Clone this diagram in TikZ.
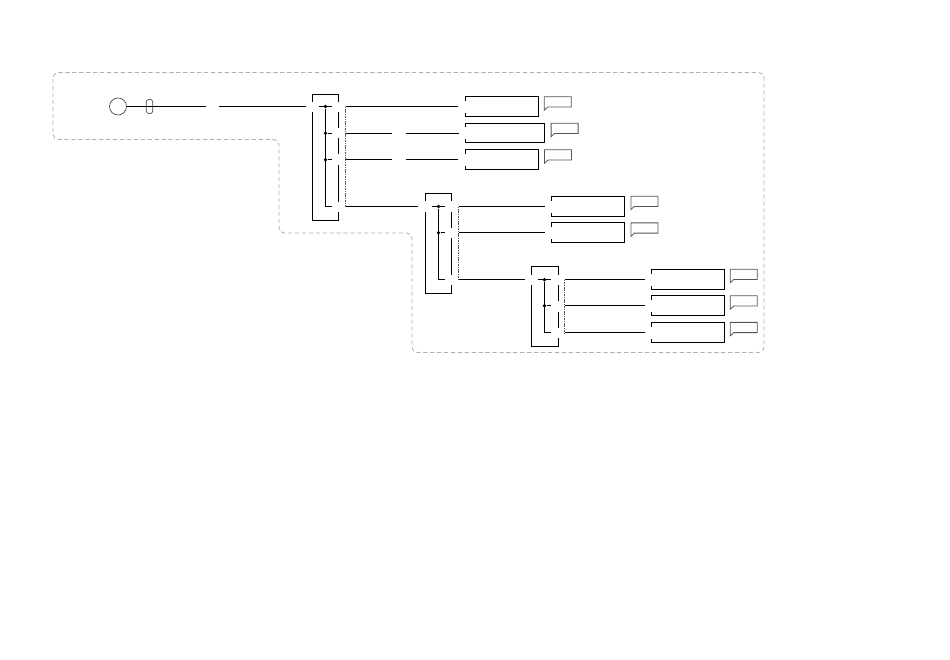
\documentclass[tikz,border=0pt]{standalone}
\usepackage{xcolor}
\usetikzlibrary{positioning}
\definecolor{zoneline}{RGB}{175,175,175}
\definecolor{noteline}{RGB}{85,85,85}
\definecolor{tapline}{RGB}{90,90,90}
\tikzset{
  wire/.style={line width=0.75pt, draw=black},
  zone/.style={line width=0.65pt, draw=zoneline, dash pattern=on 3.2pt off 2pt, rounded corners=4pt},
  tap/.style={line width=0.7pt, draw=tapline, dash pattern=on 1.2pt off 0.6pt},
  apphost/.style={minimum width=54.75pt, minimum height=15pt, inner sep=0pt, outer sep=0pt},
  apphostwide/.style={apphost, minimum width=59.5pt, minimum height=14.25pt},
  tag/.style={minimum width=20.25pt, minimum height=7.7pt, inner sep=0pt, outer sep=0pt},
  dot/.style={circle, fill=black, inner sep=0pt, minimum size=2.9pt},
  source/.style={circle, draw=black!75, line width=0.5pt, inner sep=0pt, minimum size=12.75pt},
  pill/.style={draw=black!75, line width=0.5pt, rounded corners=2pt, inner sep=0pt, minimum width=4.8pt, minimum height=10.7pt},
}
\begin{document}
\begin{tikzpicture}[x=0.75pt,y=-0.75pt]
    \useasboundingbox (0,-0.5) rectangle (950,659.5);
    % zone outline
    \draw[zone] (53,72) -- (764,72) -- (764,352) -- (412,352) -- (412,232.5) -- (279,232.5) -- (279,139) -- (53,139) -- cycle;
    % source
    \node[source] (src) at (118,106) {};
    \node[pill] (plug) at (149.5,106) {};
    \coordinate (srcend) at (206,106);
    \coordinate (inA) at (219,106);
    \coordinate (inAend) at (306,106);
    \draw[wire] (src) -- (srcend);
    \draw[wire] (inA) -- (inAend);
    % first switch
    \draw[wire] (312.5,101) -- (312.5,93.5) -- (338.5,93.5) -- (338.5,101);
    \draw[wire] (312.5,111.5) -- (312.5,219.5) -- (338.5,219.5) -- (338.5,211);
    \foreach \a/\b in {111.5/127,137.5/153,164/201}
      \draw[wire] (338.5,\a) -- (338.5,\b);
    \node[dot] (busA1) at (325.5,106) {};
    \node[dot] (busA2) at (325.5,132.8) {};
    \node[dot] (busA3) at (325.5,159.3) {};
    \coordinate (busA4) at (325.5,206);
    \draw[wire] (busA1) -- (busA4) -- (332,206);
    \draw[wire] (319,106) -- (332,106);
    \draw[wire] (busA2) -- (332,132.8);
    \draw[wire] (busA3) -- (332,159.3);
    \coordinate (tapA1) at (345.5,106);
    \coordinate (tapA2) at (345.5,132.8);
    \coordinate (tapA3) at (345.5,159.3);
    \coordinate (tapA4) at (345.5,206);
    \draw[tap] (tapA1) -- (tapA4);
    % second switch
    \draw[wire] (425.5,200.5) -- (425.5,192.5) -- (451.5,192.5) -- (451.5,200.5);
    \draw[wire] (425.5,211) -- (425.5,292.5) -- (451.5,292.5) -- (451.5,284.5);
    \foreach \a/\b in {211/227,237.5/274}
      \draw[wire] (451.5,\a) -- (451.5,\b);
    \node[dot] (busB1) at (438.5,206) {};
    \node[dot] (busB2) at (438.5,232.3) {};
    \coordinate (busB3) at (438.5,279.3);
    \draw[wire] (busB1) -- (busB3) -- (445,279.3);
    \draw[wire] (431.5,206) -- (445,206);
    \draw[wire] (busB2) -- (445,232.3);
    \coordinate (tapB1) at (458.5,206);
    \coordinate (tapB2) at (458.5,232.3);
    \coordinate (tapB3) at (458.5,279.3);
    \draw[tap] (tapB1) -- (tapB3);
    % third switch
    \draw[wire] (531.5,274) -- (531.5,265.5) -- (558.5,265.5) -- (558.5,274);
    \draw[wire] (531.5,284.5) -- (531.5,345.5) -- (558.5,345.5) -- (558.5,337);
    \foreach \a/\b in {284.5/300,311/327}
      \draw[wire] (558.5,\a) -- (558.5,\b);
    \node[dot] (busC1) at (544.5,279.3) {};
    \node[dot] (busC2) at (544.5,305.3) {};
    \coordinate (busC3) at (544.5,332.3);
    \draw[wire] (busC1) -- (busC3) -- (551,332.3);
    \draw[wire] (538,279.3) -- (551,279.3);
    \draw[wire] (busC2) -- (551,305.3);
    \coordinate (tapC1) at (564.5,279.3);
    \coordinate (tapC2) at (564.5,305.3);
    \coordinate (tapC3) at (564.5,332.3);
    \draw[tap] (tapC1) -- (tapC3);
    % hosts
    \node[apphost] (hostA1) at (501.5,106) {};
    \node[apphostwide] (hostA2) at (505,132.8) {};
    \node[apphost] (hostA3) at (501.5,159.3) {};
    \node[apphost] (hostB1) at (587.7,206) {};
    \node[apphost] (hostB2) at (587.7,232.3) {};
    \node[apphost] (hostC1) at (687.8,279.3) {};
    \node[apphost] (hostC2) at (687.8,305.3) {};
    \node[apphost] (hostC3) at (687.8,332.3) {};
    \foreach \n in {hostA1,hostA2,hostA3,hostB1,hostB2,hostC1,hostC2,hostC3}
      \draw[wire] ([yshift=4.5pt]\n.west) |- (\n.north east) -- (\n.south east) -- (\n.south west) -- ([yshift=-4.5pt]\n.west);
    % tags
    \node[tag] (tagA1) at (557.8,101.3) {};
    \node[tag] (tagA2) at (564.6,127.8) {};
    \node[tag] (tagA3) at (558,154.4) {};
    \node[tag] (tagB1) at (644.4,200.8) {};
    \node[tag] (tagB2) at (644.4,227.5) {};
    \node[tag] (tagC1) at (743.8,273.8) {};
    \node[tag] (tagC2) at (743.8,300.4) {};
    \node[tag] (tagC3) at (743.8,327) {};
    \foreach \n in {tagA1,tagA2,tagA3,tagB1,tagB2,tagC1,tagC2,tagC3}
      \draw[noteline,line width=0.6pt] ([yshift=-2.4pt]\n.south west) -- (\n.north west) -- (\n.north east) -- (\n.south east) -- ([xshift=2.6pt]\n.south west) -- cycle;
    % links
    \coordinate (splitA2) at (391.5,132.8);
    \coordinate (joinA2) at (406,132.8);
    \coordinate (splitA3) at (391.5,159.3);
    \coordinate (joinA3) at (406,159.3);
    \coordinate (inB) at (418,206);
    \coordinate (inC) at (525,279.3);
    \draw[wire,shorten >=4.9pt] (tapA1) -- (hostA1.west);
    \draw[wire] (tapA2) -- (splitA2);
    \draw[wire,shorten >=4.9pt] (joinA2) -- (hostA2.west);
    \draw[wire] (tapA3) -- (splitA3);
    \draw[wire,shorten >=4.9pt] (joinA3) -- (hostA3.west);
    \draw[wire] (tapA4) -- (inB);
    \draw[wire,shorten >=4.5pt] (tapB1) -- (hostB1.west);
    \draw[wire,shorten >=4.5pt] (tapB2) -- (hostB2.west);
    \draw[wire] (tapB3) -- (inC);
    \draw[wire,shorten >=5pt] (tapC1) -- (hostC1.west);
    \draw[wire,shorten >=5pt] (tapC2) -- (hostC2.west);
    \draw[wire,shorten >=5pt] (tapC3) -- (hostC3.west);
  \end{tikzpicture}
\end{document}
